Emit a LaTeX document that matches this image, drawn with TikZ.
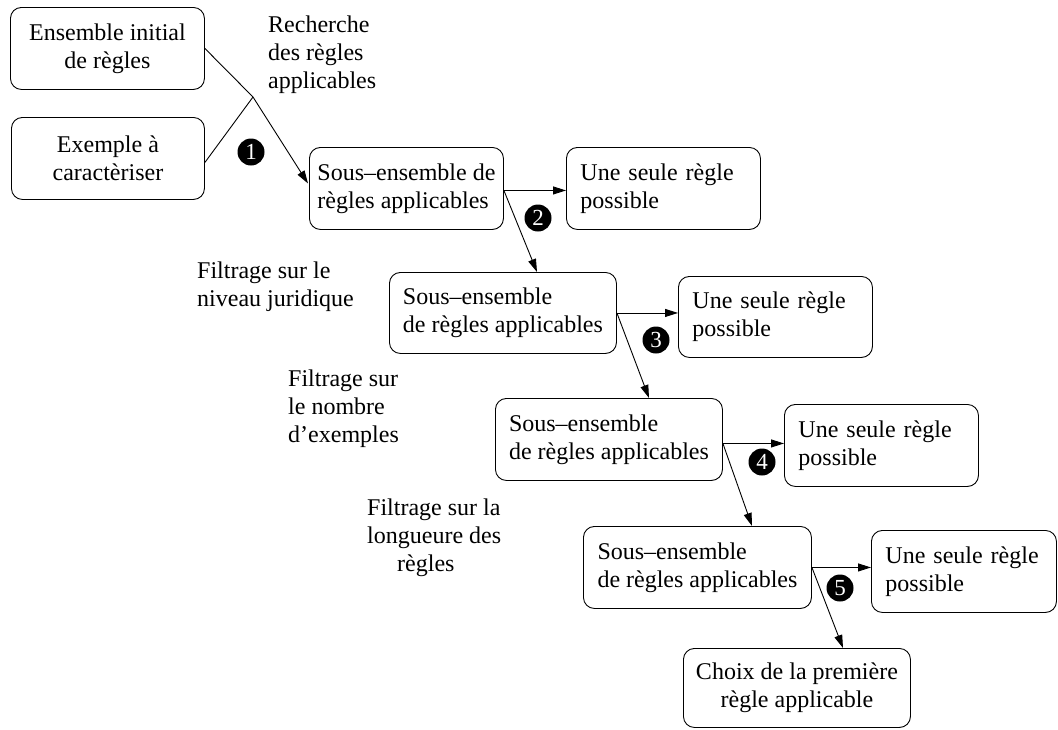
\documentclass[tikz,border=0pt]{standalone}
\usepackage{fontspec}
\setmainfont{Liberation Serif}
\usetikzlibrary{arrows.meta,calc}
\begin{document}
\begin{tikzpicture}[x=1pt,y=-1pt,
  txt/.style={font=\fontsize{24}{28}\selectfont},
  box/.style={txt,draw,line width=0.9pt,rounded corners=11pt,inner sep=0pt,anchor=north west},
  cbox/.style={box,align=center},
  lbox/.style={box,align=left},
  ubox/.style={box,align=left,text width=166pt,inner xsep=14pt,minimum width=194pt,minimum height=82pt},
  lab/.style={txt,align=left,inner sep=0pt,anchor=north west},
  conn/.style={line width=0.9pt},
  arr/.style={conn,-{Triangle[length=13pt,width=8pt]}},
  stepmark/.style={circle,fill=black,inner sep=0pt,minimum size=27pt,text=white,font=\fontsize{23}{23}\selectfont}
]
\useasboundingbox (0,0) rectangle (1058,729);

% boxes
\node[cbox,minimum width=194pt,minimum height=82pt] (b1) at (10,7) {Ensemble initial\\de règles};
\node[cbox,minimum width=193pt,minimum height=82pt] (b2) at (11,117) {Exemple à\\caractèriser};
\node[lbox,minimum width=194pt,minimum height=82pt] (s1) at (309,147) {Sous–ensemble de\\règles applicables};
\node[lbox,minimum width=227pt,minimum height=81pt] (s2) at (389,272) {Sous–ensemble\\de règles applicables};
\node[lbox,minimum width=227pt,minimum height=82pt] (s3) at (495,398) {Sous–ensemble\\de règles applicables};
\node[lbox,minimum width=228pt,minimum height=82pt] (s4) at (583,526) {Sous–ensemble\\de règles applicables};
\node[cbox,minimum width=227pt,minimum height=79pt] (fin) at (683,648) {Choix de la première\\règle applicable};
\node[ubox] (u1) at (566,147) {Une seule règle\\possible};
\node[ubox,minimum height=81pt] (u2) at (678,276) {Une seule règle\\possible};
\node[ubox] (u3) at (784,404) {Une seule règle\\possible};
\node[ubox,text width=157pt,minimum width=185pt] (u4) at (871,530) {Une seule règle\\possible};

% labels
\node[lab] (l0) at (268,15.5) {Recherche\\des règles\\applicables};
\node[lab] (l1) at (197,262) {Filtrage sur le\\niveau juridique};
\node[lab] (l2) at (288,370) {Filtrage sur\\le nombre\\d’exemples};
\node[lab] (l3) at (367,499) {Filtrage sur la\\longueure des\\\hspace*{30pt}règles};

% markers
\node[stepmark] (m1) at (251,152) {1};
\node[stepmark] (m2) at (538,218) {2};
\node[stepmark] (m3) at (656,340) {3};
\node[stepmark] (m4) at (762,462) {4};
\node[stepmark] (m5) at (840,588) {5};

% connectors
\coordinate (j) at (253,97);
\coordinate (o1) at ($(s1.east)+(0,2)$);
\coordinate (o3) at ($(s3.east)+(0,4)$);
\coordinate (t1) at ($(s2.north west)+(148,0)$);
\coordinate (t2) at ($(s3.north west)+(154,0)$);
\coordinate (t3) at ($(s4.north west)+(169,0)$);
\coordinate (t4) at ($(fin.north west)+(160,0)$);
\coordinate (e0) at ($(s1.west)+(-1,-5)$);
\coordinate (e2) at ($(b2.east)+(0,4)$);

\draw[conn] (b1.east) -- (j);
\draw[conn] (e2) -- (j);
\draw[arr] (j) -- (e0);

\draw[arr] (o1) -- (o1 -| u1.west);
\draw[arr] (o1) -- (t1);

\draw[arr] (s2.east) -- (s2.east -| u2.west);
\draw[arr] (s2.east) -- (t2);

\draw[arr] (o3) -- (o3 -| u3.west);
\draw[arr] (o3) -- (t3);

\draw[arr] (s4.east) -- (s4.east -| u4.west);
\draw[arr] (s4.east) -- (t4);
\end{tikzpicture}
\end{document}
